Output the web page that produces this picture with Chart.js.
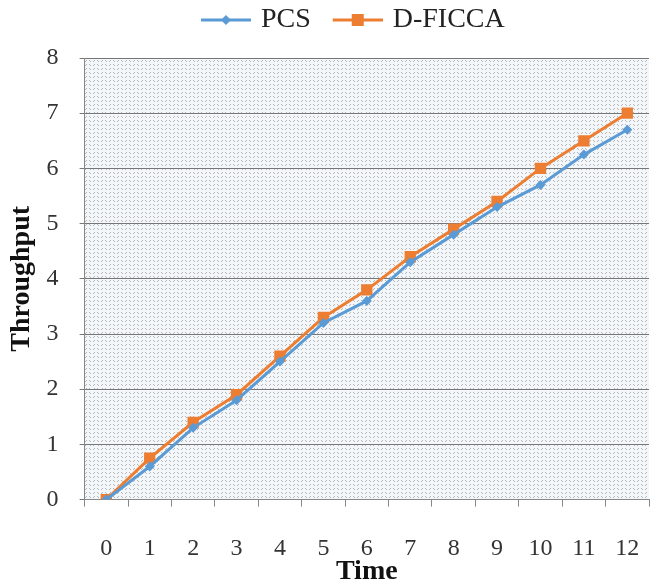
<!DOCTYPE html>
<html>
<head>
<meta charset="utf-8">
<script src="https://cdn.jsdelivr.net/npm/chart.js@4.4.0/dist/chart.umd.min.js"></script>
<style>
  html, body { margin: 0; padding: 0; background: #fff; }
  #wrap { width: 657px; height: 584px; }
</style>
</head>
<body>
<div id="wrap"><canvas id="myChart"></canvas></div>
<script>
const timeLabels = ["0","1","2","3","4","5","6","7","8","9","10","11","12"];
const pcsValues = [0, 0.6, 1.3, 1.8, 2.5, 3.2, 3.6, 4.3, 4.8, 5.3, 5.7, 6.25, 6.7];
const ficcaValues = [0, 0.75, 1.4, 1.9, 2.6, 3.3, 3.8, 4.4, 4.9, 5.4, 6.0, 6.5, 7.0];
const yTicks = [0, 1, 2, 3, 4, 5, 6, 7, 8];

const blue = '#5B9BD5';
const orange = '#ED7D31';
const serif = "'Liberation Serif', 'DejaVu Serif', serif";

// dotted fill like the old excel pattern
function makePattern() {
  var c = document.createElement('canvas');
  c.width = 8; c.height = 4;
  var p = c.getContext('2d');
  p.fillStyle = '#f4f7fa';
  p.fillRect(0, 0, 8, 4);
  p.fillStyle = 'rgba(115,115,115,0.5)';
  p.fillRect(1, 0, 1, 1);
  p.fillRect(2, 1, 1, 1);
  p.fillRect(5, 1, 1, 1);
  p.fillRect(6, 0, 1, 1);
  return c;
}

// legend symbol: line with marker
function legendIcon(color, shape) {
  var c = document.createElement('canvas');
  c.width = 70; c.height = 16;
  var g = c.getContext('2d');
  g.strokeStyle = color;
  g.lineWidth = 3;
  g.beginPath();
  g.moveTo(20, 8);
  g.lineTo(70, 8);
  g.stroke();
  g.fillStyle = color;
  if (shape == 'square') {
    g.fillRect(39, 2, 12, 12);
  } else {
    g.beginPath();
    g.moveTo(45, 3); g.lineTo(50, 8); g.lineTo(45, 13); g.lineTo(40, 8);
    g.closePath();
    g.fill();
  }
  return c;
}

const bgPlugin = {
  id: 'bgPattern',
  beforeDraw(chart) {
    const {ctx, chartArea: {left, top, width, height}} = chart;
    ctx.save();
    ctx.fillStyle = ctx.createPattern(makePattern(), 'repeat');
    ctx.fillRect(left, top, width, height);
    ctx.restore();
  }
};

// more room under the legend, and nudge it a bit left
const legendGap = {
  id: 'legendGap',
  beforeInit(chart) {
    const origFit = chart.legend.fit;
    chart.legend.fit = function() {
      origFit.bind(chart.legend)();
      this.height += 14;
    };
  },
  afterLayout(chart) {
    chart.legend.left -= 22;
    chart.legend.right -= 22;
  }
};

var ctx = document.getElementById('myChart').getContext('2d');

var chart1 = new Chart(ctx, {
  type: 'line',
  data: {
    labels: timeLabels,
    datasets: [
      {
        label: 'PCS',
        data: pcsValues,
        borderColor: blue,
        backgroundColor: blue,
        borderWidth: 3,
        pointStyle: 'rectRot',
        pointRadius: 5,
        pointBorderWidth: 0,
        tension: 0
      },
      {
        label: 'D-FICCA',
        data: ficcaValues,
        borderColor: orange,
        backgroundColor: orange,
        borderWidth: 3,
        pointStyle: 'rect',
        pointRadius: 8,
        pointBorderWidth: 0,
        tension: 0
      }
    ]
  },
  options: {
    responsive: true,
    maintainAspectRatio: false,
    animation: false,
    layout: { padding: { left: 5, right: 5, top: 0, bottom: 0 } },
    plugins: {
      legend: {
        position: 'top',
        fullSize: false,
        labels: {
          usePointStyle: true,
          pointStyleWidth: 62,
          color: '#222',
          font: { family: serif, size: 28 },
          padding: 6,
          generateLabels: function(chart) {
            return chart.data.datasets.map(function(ds, i) {
              return {
                text: ds.label,
                pointStyle: legendIcon(ds.borderColor, i == 1 ? 'square' : 'diamond'),
                fillStyle: ds.borderColor,
                strokeStyle: ds.borderColor,
                lineWidth: 0,
                fontColor: '#222',
                datasetIndex: i
              };
            });
          }
        }
      },
      tooltip: { enabled: false }
    },
    scales: {
      x: {
        offset: true,
        afterFit: function(scale) {
          scale.paddingLeft = 0;
          scale.paddingRight = 0;
        },
        grid: {
          offset: true,
          drawOnChartArea: false,
          color: '#888',
          tickLength: 7
        },
        border: { color: '#888', width: 1 },
        ticks: {
          color: '#333',
          padding: 28,
          font: { family: serif, size: 24 }
        },
        title: {
          display: true,
          text: 'Time',
          color: '#111',
          padding: { top: -36, bottom: -5 },
          font: { family: serif, size: 28, weight: 'bold' }
        }
      },
      y: {
        min: 0,
        max: 8,
        afterBuildTicks: function(axis) {
          axis.ticks = yTicks.map(function(v) { return { value: v }; });
        },
        afterFit: function(scale) {
          scale.paddingTop = 0;
        },
        grid: {
          color: '#777',
          lineWidth: 1,
          tickLength: 5
        },
        border: { color: '#888', width: 1 },
        ticks: {
          color: '#333',
          padding: 21,
          font: { family: serif, size: 24 }
        },
        title: {
          display: true,
          text: 'Throughput',
          color: '#111',
          padding: { top: 0, bottom: -13 },
          font: { family: serif, size: 28, weight: 'bold' }
        }
      }
    }
  },
  plugins: [bgPlugin, legendGap]
});
</script>
</body>
</html>
